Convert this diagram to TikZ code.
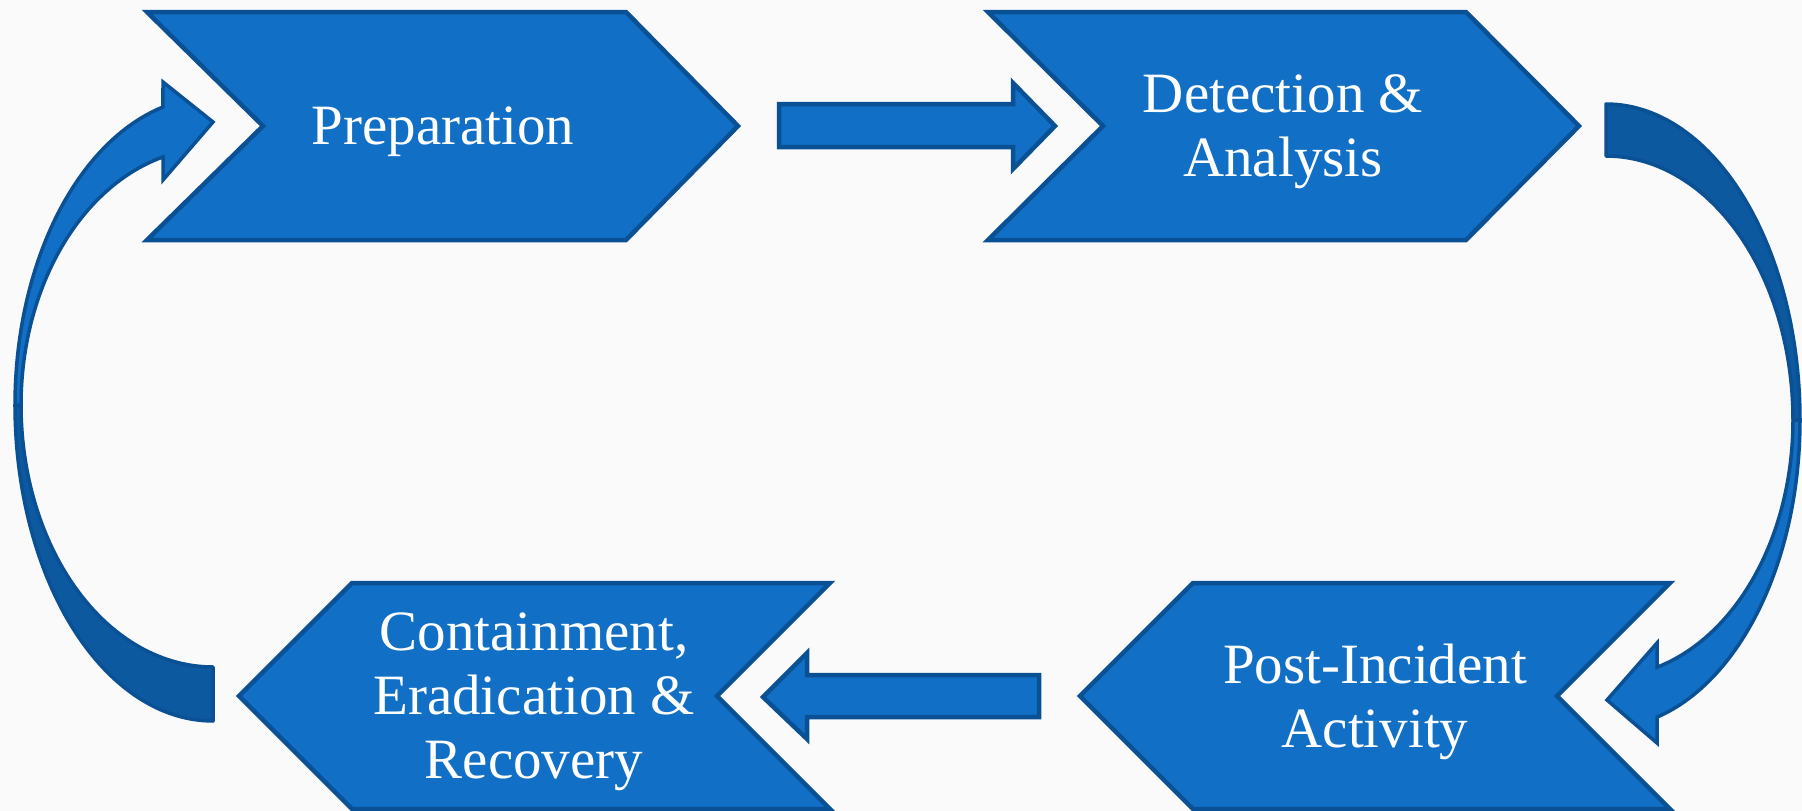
\documentclass[tikz,border=0pt]{standalone}
\usepackage{fontspec}
\setmainfont{Liberation Serif}
\definecolor{boxfill}{RGB}{17,112,197}
\definecolor{boxline}{RGB}{10,80,148}
\definecolor{bandback}{RGB}{12,89,160}
\definecolor{bgcol}{RGB}{250,250,250}
\begin{document}
\begin{tikzpicture}[x=1pt,y=-1pt,
  chev/.style={fill=boxfill,draw=boxline,line width=4.5pt,line join=miter},
  blk/.style={fill=boxfill,draw=boxline,line width=4.5pt,line join=miter},
  back/.style={fill=bandback,draw=boxline,line width=3.5pt,line join=round},
  front/.style={fill=boxfill,draw=boxline,line width=3.5pt,line join=miter},
  lbl/.style={text=white,align=center,font=\fontsize{57}{64}\selectfont,inner sep=0pt}]
\fill[bgcol] (0,0) rectangle (1802,811);
\useasboundingbox (0,0) rectangle (1802,811);

% chevrons
\draw[chev] (147,12) -- (626,12) -- (738,126) -- (626,240) -- (147,240) -- (263,126) -- cycle;
\draw[chev] (988,12) -- (1466,12) -- (1579,126) -- (1466,240) -- (988,240) -- (1103,126) -- cycle;
\draw[chev] (239,696) -- (352,583) -- (830,583) -- (717,696) -- (830,809) -- (352,809) -- cycle;
\draw[chev] (1080,696) -- (1193,583) -- (1670,583) -- (1557,696) -- (1670,809) -- (1193,809) -- cycle;

% labels
\node[lbl] (prep) at (443,132) {Preparation};
\node[lbl] (det) at (1283,132) {Detection \&\\Analysis};
\node[lbl] (cont) at (534,702) {Containment,\\Eradication \&\\Recovery};
\node[lbl] (post) at (1375,702) {Post-Incident\\Activity};

% straight block arrows
\draw[blk] (779,104) -- (1013,104) -- (1013,83) -- (1055,126) -- (1013,169) -- (1013,147) -- (779,147) -- cycle;
\draw[blk] (1039,675) -- (807,675) -- (807,653) -- (763,697) -- (807,739) -- (807,717) -- (1039,717) -- cycle;

% left curved arrow (Containment -> Preparation)
\draw[back] plot[domain=90:180,samples=60] ({213+198*cos(\x)},{405+316*sin(\x)})
  -- plot[domain=180:90,samples=60] ({213+192*cos(\x)},{405+262*sin(\x)}) -- cycle;
\draw[front] plot[domain=180:255.37,samples=60] ({213+198*cos(\x)},{405+308*sin(\x)})
  -- (163,82) -- (213,122) -- (163,180) -- (163,157)
  -- plot[domain=254.9:180,samples=60] ({213+192*cos(\x)},{405+257*sin(\x)}) -- cycle;

% right curved arrow (Detection -> Post-Incident)
\draw[back] plot[domain=270:360,samples=60] ({1606+194*cos(\x)},{420+316*sin(\x)})
  -- plot[domain=360:270,samples=60] ({1606+187*cos(\x)},{420+264*sin(\x)}) -- cycle;
\draw[front] plot[domain=0:74.76,samples=60] ({1606+194*cos(\x)},{420+308*sin(\x)})
  -- (1657,743) -- (1607,700) -- (1657,643) -- (1657,667)
  -- plot[domain=74.17:0,samples=60] ({1606+187*cos(\x)},{420+257*sin(\x)}) -- cycle;
\end{tikzpicture}
\end{document}
